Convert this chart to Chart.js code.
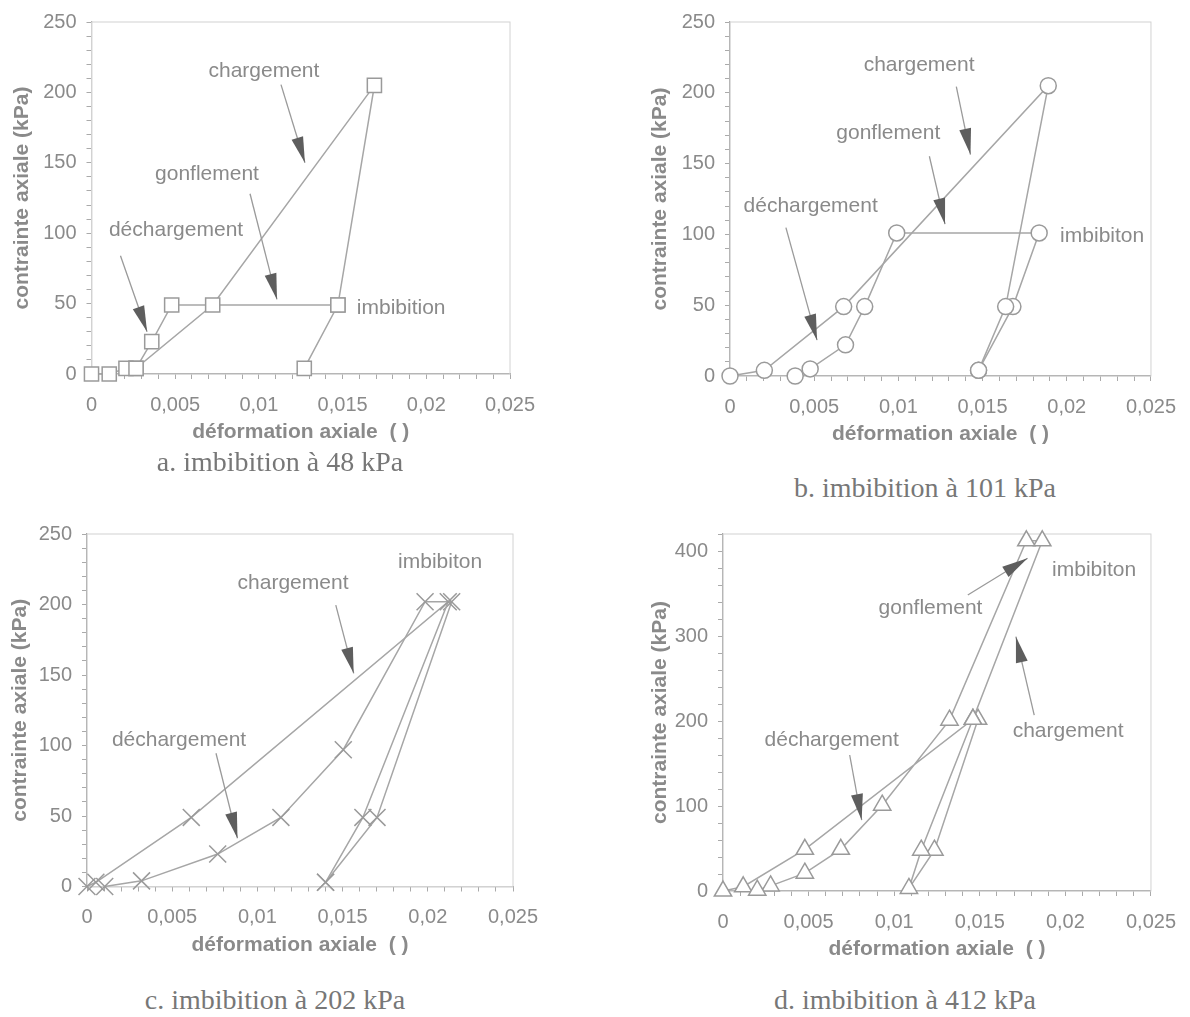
<!DOCTYPE html>
<html>
<head>
<meta charset="utf-8">
<script src="https://cdn.jsdelivr.net/npm/chart.js@4.4.0/dist/chart.umd.min.js"></script>
<style>
  body { margin: 0; background: #fff; width: 1190px; height: 1017px; position: relative; overflow: hidden; }
  canvas { position: absolute; }
  .cap { position: absolute; font-family: "Liberation Serif", "Times New Roman", serif; font-size: 28px; color: #777;
         transform: translate(-50%, -50%); white-space: nowrap; }
</style>
</head>
<body>
<canvas id="chartA" width="600" height="460" style="left:0;top:0"></canvas>
<canvas id="chartB" width="590" height="460" style="left:600px;top:0"></canvas>
<canvas id="chartC" width="600" height="460" style="left:0;top:505px"></canvas>
<canvas id="chartD" width="590" height="460" style="left:600px;top:505px"></canvas>
<div class="cap" style="left:280px;top:462px">a. imbibition à 48 kPa</div>
<div class="cap" style="left:925px;top:488px">b. imbibition à 101 kPa</div>
<div class="cap" style="left:275px;top:1000px">c. imbibition à 202 kPa</div>
<div class="cap" style="left:905px;top:1000px">d. imbibition à 412 kPa</div>
<script>
const xTickLabels = ["0", "0,005", "0,01", "0,015", "0,02", "0,025"];
const yLabels250 = [0, 50, 100, 150, 200, 250];
const yLabels400 = [0, 100, 200, 300, 400];

// a. imbibition à 48 kPa
const aPath1X = [0, 0.00106, 0.00206, 0.00266, 0.00724, 0.0169, 0.01472, 0.01271];
const aPath1Y = [0, 0, 4, 4, 49, 205, 49, 4];
const aPath2X = [0.01472, 0.00479, 0.0036, 0.00266];
const aPath2Y = [49, 49, 23, 4];

// b. imbibition à 101 kPa
const bPath1X = [0, 0.00204, 0.00675, 0.0189, 0.01637, 0.01476];
const bPath1Y = [0, 4, 49, 205, 49, 4];
const bPath2X = [0.00387, 0.00476, 0.00686, 0.008, 0.0099, 0.01836, 0.0168, 0.01476];
const bPath2Y = [0, 5, 22, 49, 101, 101, 49, 4];

// c. imbibition à 202 kPa
const cPath1X = [0, 0.00052, 0.00612, 0.0212, 0.01619, 0.014];
const cPath1Y = [0, 3, 49, 202, 49, 3];
const cPath2X = [0.00104, 0.0032, 0.00767, 0.01138, 0.01504, 0.01984, 0.0214, 0.01702, 0.014];
const cPath2Y = [0, 4, 23, 49, 97, 202, 202, 49, 3];

// d. imbibition à 412 kPa
const dPath1X = [0, 0.00118, 0.00478, 0.0146, 0.01865, 0.01772, 0.01323, 0.0093, 0.00688, 0.00478, 0.00278, 0.002];
const dPath1Y = [0, 5, 49, 202, 412, 412, 201, 101, 49, 21, 6, 1];
const dPath2X = [0.0149, 0.01235, 0.01086, 0.01158, 0.0146];
const dPath2Y = [202, 48, 3, 48, 202];

// labels [text, x, y] and arrows [x0, y0, x1(tip), y1(tip)] in data units
const aNotes = [["chargement", 0.0103, 215], ["gonflement", 0.0069, 142], ["déchargement", 0.00505, 102], ["imbibition", 0.0185, 46.6]];
const aArrows = [[0.01132, 205.5, 0.01275, 150], [0.00947, 128, 0.01108, 53], [0.00173, 84, 0.00332, 30]];
const bNotes = [["chargement", 0.01123, 219.8], ["gonflement", 0.0094, 171.3], ["déchargement", 0.00479, 120], ["imbibiton", 0.0221, 99]];
const bArrows = [[0.01344, 204.4, 0.01428, 156.4], [0.01184, 155.2, 0.01277, 107.2], [0.00332, 104.8, 0.00517, 25.3]];
const cNotes = [["imbibiton", 0.02072, 230], ["chargement", 0.01209, 215], ["déchargement", 0.0054, 104]];
const cArrows = [[0.0146, 199.6, 0.01565, 151.2], [0.00757, 94.5, 0.00883, 34.2]];
const dNotes = [["imbibiton", 0.02168, 377.6], ["gonflement", 0.01212, 333], ["chargement", 0.02016, 188], ["déchargement", 0.00635, 177.6]];
const dArrows = [[0.0143, 348.2, 0.01779, 391.4], [0.01818, 207, 0.01711, 299.2], [0.0074, 160, 0.0081, 83.5]];

Chart.defaults.font.family = '"Liberation Sans", Arial, sans-serif';
Chart.defaults.color = "#8a8a8a";

function pts(xs, ys) {
  return xs.map((x, i) => ({ x: x, y: ys[i] }));
}

function notesPlugin(notes, arrows) {
  return {
    id: "notes",
    beforeDatasetsDraw(chart) {
      const { ctx, chartArea: a } = chart;
      ctx.save();
      ctx.strokeStyle = "#d2d2d2";
      ctx.lineWidth = 1;
      ctx.strokeRect(a.left, a.top, a.right - a.left, a.bottom - a.top);
      ctx.restore();
    },
    afterDatasetsDraw(chart) {
      const { ctx, scales: { x, y } } = chart;
      ctx.save();
      arrows.forEach(r => {
        const x0 = x.getPixelForValue(r[0]), y0 = y.getPixelForValue(r[1]);
        const x1 = x.getPixelForValue(r[2]), y1 = y.getPixelForValue(r[3]);
        const ang = Math.atan2(y1 - y0, x1 - x0);
        const c = Math.cos(ang), s = Math.sin(ang);
        ctx.strokeStyle = "#9a9a9a";
        ctx.lineWidth = 1.3;
        ctx.beginPath();
        ctx.moveTo(x0, y0);
        ctx.lineTo(x1, y1);
        ctx.stroke();
        const bx = x1 - c * 26, by = y1 - s * 26;
        ctx.fillStyle = "#5e5e5e";
        ctx.beginPath();
        ctx.moveTo(x1, y1);
        ctx.lineTo(bx + s * 6, by - c * 6);
        ctx.lineTo(bx - s * 6, by + c * 6);
        ctx.closePath();
        ctx.fill();
      });
      ctx.font = '21px "Liberation Sans", Arial, sans-serif';
      ctx.fillStyle = "#8a8a8a";
      ctx.textAlign = "center";
      ctx.textBaseline = "middle";
      notes.forEach(n => ctx.fillText(n[0], x.getPixelForValue(n[1]), y.getPixelForValue(n[2])));
      ctx.restore();
    }
  };
}

function makeChart(id, p) {
  const yStep = p.yMinor;
  new Chart(document.getElementById(id), {
    type: "scatter",
    data: {
      datasets: p.paths.map(path => ({
        data: pts(path[0], path[1]),
        showLine: true,
        borderColor: "#a6a6a6",
        borderWidth: 1.5,
        pointStyle: p.marker,
        pointRadius: p.radius,
        pointBorderWidth: 1.5,
        pointBorderColor: "#9a9a9a",
        pointBackgroundColor: "#fff",
        clip: false
      }))
    },
    plugins: [notesPlugin(p.notes, p.arrows)],
    options: {
      responsive: false,
      animation: false,
      layout: { padding: { left: 0, top: p.padTop, right: p.padRight, bottom: p.padBottom } },
      plugins: { legend: { display: false }, tooltip: { enabled: false } },
      scales: {
        x: {
          type: "linear", min: 0, max: 0.025,
          afterBuildTicks: s => {
            const t = [];
            for (let k = 0; k <= 25; k++) t.push({ value: k / 1000 });
            s.ticks = t;
          },
          afterFit: s => { s.height = 71; },
          border: { color: "#9a9a9a", width: 1.2 },
          grid: { drawOnChartArea: false, tickLength: 5, color: "#aaa" },
          ticks: {
            autoSkip: false, maxRotation: 0, padding: 14, font: { size: 20 },
            callback: v => {
              const k = Math.round(v * 1000);
              return k % 5 === 0 ? xTickLabels[k / 5] : "";
            }
          },
          title: { display: true, text: "déformation axiale  ( )", font: { size: 21, weight: "bold" }, padding: { top: 0, bottom: 0 } }
        },
        y: {
          type: "linear", min: 0, max: p.yMax,
          afterBuildTicks: s => {
            const t = [];
            for (let v = 0; v <= p.yMax; v += yStep) t.push({ value: v });
            s.ticks = t;
          },
          afterFit: s => { s.width = p.yWidth; },
          border: { color: "#9a9a9a", width: 1.2 },
          grid: { drawOnChartArea: false, tickLength: 5, color: "#aaa" },
          ticks: {
            autoSkip: false, padding: 10, font: { size: 20 },
            callback: v => (p.yLabels.includes(v) ? String(v) : "")
          },
          title: { display: true, text: "contrainte axiale (kPa)", font: { size: 21, weight: "bold" }, padding: { top: p.yTitlePad, bottom: 0 } }
        }
      }
    }
  });
}

makeChart("chartA", {
  paths: [[aPath1X, aPath1Y], [aPath2X, aPath2Y]], marker: "rect", radius: 10,
  notes: aNotes, arrows: aArrows, yMax: 250, yMinor: 10, yLabels: yLabels250,
  yWidth: 91.5, yTitlePad: 9.4, padTop: 20, padRight: 90, padBottom: 15
});
makeChart("chartB", {
  paths: [[bPath1X, bPath1Y], [bPath2X, bPath2Y]], marker: "circle", radius: 8,
  notes: bNotes, arrows: bArrows, yMax: 250, yMinor: 10, yLabels: yLabels250,
  yWidth: 130, yTitlePad: 47.4, padTop: 20, padRight: 37, padBottom: 13
});
makeChart("chartC", {
  paths: [[cPath1X, cPath1Y], [cPath2X, cPath2Y]], marker: "crossRot", radius: 12,
  notes: cNotes, arrows: cArrows, yMax: 250, yMinor: 10, yLabels: yLabels250,
  yWidth: 87, yTitlePad: 7.4, padTop: 29, padRight: 87, padBottom: 7.5
});
makeChart("chartD", {
  paths: [[dPath1X, dPath1Y], [dPath2X, dPath2Y]], marker: "triangle", radius: 10,
  notes: dNotes, arrows: dArrows, yMax: 420, yMinor: 20, yLabels: yLabels400,
  yWidth: 123, yTitlePad: 47.4, padTop: 29, padRight: 38, padBottom: 3
});
</script>
</body>
</html>
